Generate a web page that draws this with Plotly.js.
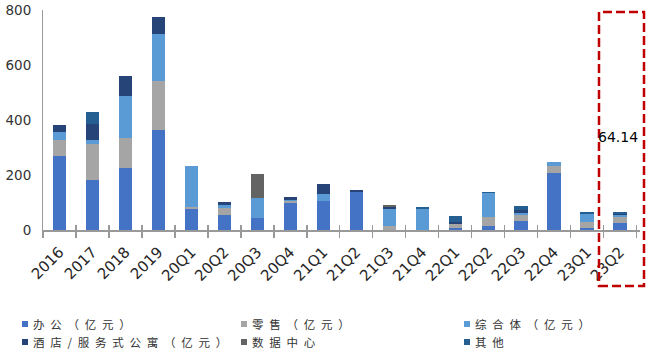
<!DOCTYPE html>
<html>
<head>
<meta charset="utf-8">
<script src="https://cdn.plot.ly/plotly-3.0.1.min.js"></script>
<style>html,body{margin:0;padding:0;background:#fff;}#chart{width:658px;height:351px;}</style>
</head>
<body>
<div id="chart"></div>
<script>
var categories = ["2016","2017","2018","2019","20Q1","20Q2","20Q3","20Q4","21Q1","21Q2","21Q3","21Q4","22Q1","22Q2","22Q3","22Q4","23Q1","23Q2"];
var seriesNames = ["办公（亿元）","零售（亿元）","综合体（亿元）","酒店/服务式公寓（亿元）","数据中心","其他"];
var office     = [270,181,224,364,77,56,42,99,105,138,0,0,8,16,34,206,8,25];
var retail     = [57,132,112,179,5,23,0,5,0,0,16,0,13,30,22,25,20,23];
var complexes  = [28,13,152,171,151,11,73,4,26,0,59,78,0,89,7,17,29,7];
var hotel      = [27,58,72,59,0,12,0,12,36,7,9,0,9,0,10,0,3,4];
var datacenter = [0,0,0,0,0,0,89,0,0,0,8,0,0,0,0,0,0,0];
var other      = [0,44,0,0,0,0,0,0,0,0,0,6,21,4,14,0,7,5.14];
var highlightLabel = "64.14";
var highlightCategory = "23Q2";
var yTicks = [0,200,400,600,800];

var colors = ["#4472C4","#A5A5A5","#5B9BD5","#264478","#636363","#255E91"];
var values = [office, retail, complexes, hotel, datacenter, other];

var traces = values.map(function(v, i){
  return {type:"bar", x:categories, y:v, name:seriesNames[i],
    marker:{color:colors[i], line:{width:0}}, showlegend:false, hoverinfo:"x+y+name"};
});

var axisGray = "#999999";
var legendCols = [22, 241, 464];
var legendRows = [324, 342];
var L = 43, R = 640, T = 10, B = 230;
function px2x(px){ return (px - L) / (R - L); }
function px2y(py){ return (B - py) / (B - T); }
var annotations = [];
var shapes = [];
seriesNames.forEach(function(n, i){
  var col = i % 3, row = Math.floor(i / 3);
  var sx = legendCols[col], sy = legendRows[row];
  shapes.push({type:"rect", xref:"paper", yref:"paper",
    x0:px2x(sx), x1:px2x(sx+6), y0:px2y(sy+3), y1:px2y(sy-3),
    fillcolor:colors[i], line:{width:0}});
  annotations.push({xref:"paper", yref:"paper", x:px2x(sx+9), y:px2y(sy),
    xanchor:"left", yanchor:"middle", showarrow:false,
    text:Array.from(n).join("\u2002"),
    font:{family:"Noto Sans CJK SC, sans-serif", size:11.5, color:"#333333"}});
});
annotations.push({xref:"x", yref:"y", x:highlightCategory, y:338, xshift:-2,
  text:highlightLabel, showarrow:false,
  font:{family:"DejaVu Sans, sans-serif", size:14, color:"#000"}});
shapes.push({type:"rect", xref:"paper", yref:"paper",
  x0:px2x(599), x1:px2x(644), y0:px2y(286), y1:px2y(12),
  line:{color:"#C00000", width:2.5, dash:"9px,4px"}, fillcolor:"rgba(0,0,0,0)"});

var layout = {
  width:658, height:351,
  margin:{l:L, r:658-R, t:T, b:351-B, pad:0},
  paper_bgcolor:"#fff", plot_bgcolor:"#fff",
  barmode:"stack", bargap:0.6,
  showlegend:false,
  xaxis:{type:"category", showgrid:false, zeroline:false, showline:true, linecolor:axisGray, linewidth:1.5,
    ticks:"outside", ticklen:6, tickcolor:axisGray, tickwidth:1.5, tickson:"boundaries",
    tickangle:-45, ticklabelstandoff:6,
    tickfont:{family:"DejaVu Sans, sans-serif", size:15, color:"#262626"}},
  xaxis2:{type:"category", overlaying:"x", matches:"x", anchor:"y", side:"bottom",
    showgrid:false, zeroline:false, showline:false, showticklabels:false,
    ticks:"inside", ticklen:5, tickcolor:axisGray, tickwidth:1.5, tickson:"boundaries"},
  yaxis:{range:[0,800], tickvals:yTicks, showgrid:false, zeroline:false, showline:true,
    linecolor:axisGray, linewidth:1, ticks:"", ticklabelstandoff:8,
    tickfont:{family:"DejaVu Sans, sans-serif", size:13.5, color:"#333333"}},
  annotations:annotations,
  shapes:shapes
};
traces.push({type:"bar", x:categories, y:categories.map(function(){return 0;}), xaxis:"x2", yaxis:"y",
  showlegend:false, hoverinfo:"skip", marker:{color:"rgba(0,0,0,0)"}});
Plotly.newPlot("chart", traces, layout, {displayModeBar:false, staticPlot:true});
</script>
</body>
</html>
